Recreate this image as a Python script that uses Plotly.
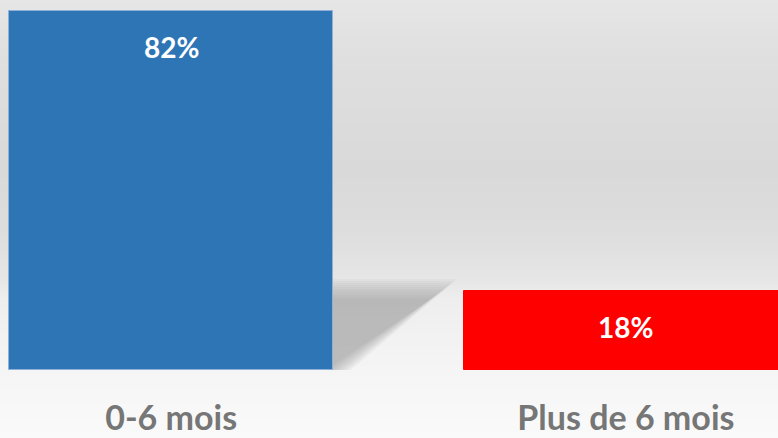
import plotly.graph_objects as go

# Données du graphique
categories = ['0-6 mois', 'Plus de 6 mois']
valeurs = [82, 18]
couleurs = ['#2E75B6', '#FF0000']

W, H = 778, 438
MARGE_BAS = 68
HAUT_ZONE = H - MARGE_BAS  # hauteur de la zone de tracé en pixels


def px_x(px):
    return px / W


def px_y(py):
    return (HAUT_ZONE - py) / HAUT_ZONE


def interp(stops, py):
    for (y0, g0), (y1, g1) in zip(stops, stops[1:]):
        if y0 <= py <= y1:
            t = (py - y0) / (y1 - y0)
            return round(g0 + (g1 - g0) * t)
    return stops[-1][1]


# Fond dégradé gris (mur puis sol plus clair)
fond = [(0, 230), (60, 223), (170, 217), (230, 221), (280, 230), (300, 238), (370, 245), (438, 250)]

formes = []
pas = 2
for py in range(0, H, pas):
    g = interp(fond, py + pas / 2)
    # bandes qui se chevauchent un peu pour éviter les lignes claires
    formes.append(dict(type='rect', xref='paper', yref='paper', layer='below',
                       x0=0, x1=1, y0=px_y(py + pas + 1), y1=px_y(py),
                       fillcolor=f'rgb({g},{g},{g})', line_width=0))

# Ombre portée de la première barre (couches superposées pour le flou)
for d in range(10, -11, -2):
    pts = [(330, 289 - d), (444 + 1.3 * d, 289 - d), (338 + 1.3 * d, 370), (330, 370)]
    chemin = 'M ' + ' L '.join(f'{px_x(x)},{px_y(y)}' for x, y in pts) + ' Z'
    formes.append(dict(type='path', xref='paper', yref='paper', layer='below',
                       path=chemin, fillcolor='rgba(150,150,150,0.08)', line_width=0))

fig = go.Figure(go.Bar(
    x=categories,
    y=valeurs,
    marker=dict(color=couleurs, line=dict(color=['#8FB0D8', '#FF0000'], width=1)),
    width=0.712,
    hoverinfo='skip',
))

# Étiquettes de valeur en haut des barres
for cat, val in zip(categories, valeurs):
    fig.add_annotation(x=cat, y=val, text=f'{val}%', showarrow=False,
                       yanchor='top', yshift=-17,
                       font=dict(family='Lato', size=28, color='white', weight='bold'))

fig.update_layout(
    width=W, height=H,
    margin=dict(l=0, r=0, t=0, b=MARGE_BAS),
    paper_bgcolor='#F8F8F8',
    plot_bgcolor='rgba(0,0,0,0)',
    shapes=formes,
    showlegend=False,
    bargap=0,
)
fig.update_xaxes(range=[-0.3765, 1.3345], showgrid=False, zeroline=False, showline=False,
                 ticks='', ticklabelstandoff=25, automargin=False,
                 tickfont=dict(family='Lato', size=34, color='#767676', weight='bold'))
fig.update_yaxes(range=[0, 84.5], visible=False, automargin=False)

# Pas de marge autour du graphique dans la page, pas de barre d'outils
fig.write_html('out.html', config={'displayModeBar': False},
               post_script="document.body.style.margin='0';")
